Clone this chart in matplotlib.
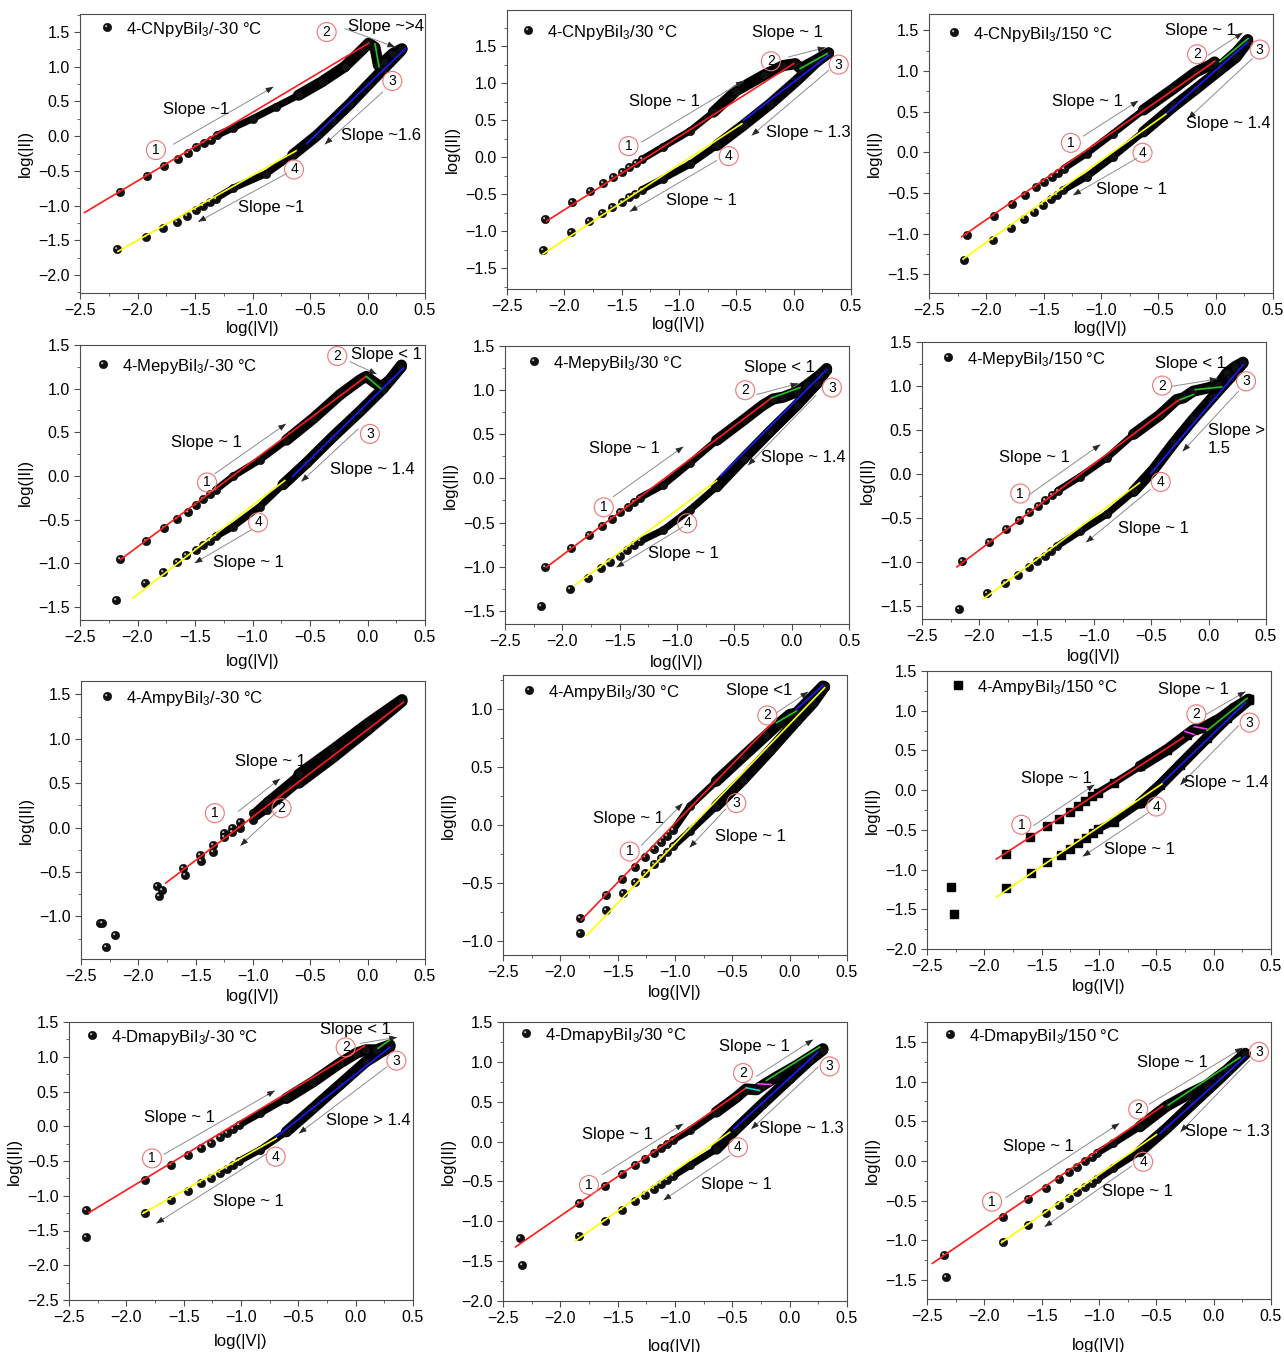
import matplotlib
matplotlib.use("Agg")
from matplotlib import pyplot as plt
from matplotlib.path import Path
from matplotlib.ticker import MultipleLocator

plt.rcParams["font.family"] = ["Liberation Sans", "DejaVu Sans"]
plt.rcParams["mathtext.default"] = "regular"

# ---------------- data (log V, log I) ----------------
# 4-CNpyBiI3 / -30 C
cn1_fwd_x = [-2.15, -1.92, -1.77, -1.65, -1.56, -1.49, -1.42, -1.36, -1.31, -1.17, -1.0, -0.8, -0.6, -0.4, -0.2, -0.05, 0.01, 0.065, 0.095, 0.14, 0.22, 0.30]
cn1_fwd_y = [-0.80, -0.58, -0.43, -0.33, -0.24, -0.16, -0.10, -0.05, 0.01, 0.12, 0.25, 0.42, 0.59, 0.78, 1.00, 1.24, 1.34, 1.28, 1.02, 1.07, 1.19, 1.26]
cn1_rev_x = [-2.18, -1.93, -1.78, -1.66, -1.57, -1.49, -1.43, -1.37, -1.32, -1.17, -0.88, -0.65, -0.44, -0.30, -0.15, 0.0, 0.14, 0.28, 0.30]
cn1_rev_y = [-1.63, -1.46, -1.33, -1.23, -1.15, -1.07, -1.01, -0.95, -0.90, -0.75, -0.54, -0.27, 0.01, 0.23, 0.47, 0.73, 0.97, 1.21, 1.25]
cn1_fits = [(-2.46, -1.10, 0.01, 1.34), (0.065, 1.33, 0.10, 1.0), (0.33, 1.26, -0.53, -0.11), (-0.62, -0.21, -2.17, -1.66)]

# 4-CNpyBiI3 / 30 C
cn2_fwd_x = [-2.165, -1.93, -1.775, -1.66, -1.575, -1.495, -1.435, -1.375, -1.325, -1.14, -0.90, -0.70, -0.50, -0.26, -0.09, 0.015, 0.06, 0.17, 0.305]
cn2_fwd_y = [-0.84, -0.61, -0.46, -0.35, -0.27, -0.20, -0.13, -0.08, -0.03, 0.14, 0.36, 0.61, 0.90, 1.11, 1.24, 1.265, 1.20, 1.29, 1.41]
cn2_rev_x = [-2.19, -1.945, -1.785, -1.67, -1.58, -1.50, -1.44, -1.38, -1.325, -1.14, -0.90, -0.67, -0.44, -0.205, 0.03, 0.20, 0.305]
cn2_rev_y = [-1.25, -1.01, -0.86, -0.75, -0.67, -0.60, -0.54, -0.49, -0.44, -0.29, -0.09, 0.16, 0.43, 0.72, 1.04, 1.29, 1.41]
cn2_fits = [(-2.156, -0.864, 0.0, 1.265), (0.058, 1.198, 0.29, 1.40), (0.305, 1.378, -0.438, 0.499), (-0.452, 0.454, -2.185, -1.306)]

# 4-CNpyBiI3 / 150 C
cn3_fwd_x = [-2.165, -1.93, -1.775, -1.66, -1.57, -1.50, -1.43, -1.375, -1.325, -1.125, -0.895, -0.63, -0.37, -0.17, -0.05, -0.01, 0.035, 0.18, 0.28]
cn3_fwd_y = [-1.02, -0.78, -0.63, -0.52, -0.43, -0.36, -0.30, -0.25, -0.20, -0.015, 0.23, 0.52, 0.78, 0.99, 1.07, 1.11, 1.05, 1.23, 1.385]
cn3_rev_x = [-2.195, -1.945, -1.785, -1.675, -1.585, -1.505, -1.44, -1.38, -1.33, -1.125, -0.895, -0.63, -0.37, -0.17, 0.035, 0.18, 0.28]
cn3_rev_y = [-1.32, -1.08, -0.93, -0.82, -0.73, -0.645, -0.58, -0.52, -0.465, -0.30, -0.055, 0.25, 0.56, 0.78, 1.01, 1.17, 1.36]
cn3_fits = [(-2.215, -1.038, -0.008, 1.119), (0.036, 1.111, 0.282, 1.398), (0.282, 1.357, -0.429, 0.477), (-0.435, 0.468, -2.195, -1.304)]

# 4-MepyBiI3 / -30 C
me1_fwd_x = [-2.155, -1.925, -1.77, -1.655, -1.565, -1.495, -1.43, -1.37, -1.32, -1.17, -0.935, -0.705, -0.47, -0.24, -0.065, -0.01, 0.05, 0.12, 0.195, 0.295]
me1_fwd_y = [-0.95, -0.74, -0.60, -0.49, -0.41, -0.33, -0.265, -0.21, -0.16, -0.005, 0.185, 0.41, 0.66, 0.93, 1.10, 1.14, 1.08, 1.02, 1.10, 1.27]
me1_rev_x = [-2.185, -1.935, -1.78, -1.66, -1.575, -1.495, -1.43, -1.37, -1.315, -1.17, -0.935, -0.735, -0.53, -0.30, -0.065, 0.135, 0.295]
me1_rev_y = [-1.42, -1.23, -1.10, -0.99, -0.91, -0.845, -0.79, -0.74, -0.69, -0.58, -0.35, -0.10, 0.15, 0.45, 0.74, 1.00, 1.25]
me1_fits = [(-2.149, -0.959, -0.014, 1.138), (-0.008, 1.138, 0.123, 0.993), (0.311, 1.233, -0.652, -0.006), (-0.719, -0.052, -2.039, -1.397)]

# 4-MepyBiI3 / 30 C
me2_fwd_x = [-2.155, -1.925, -1.77, -1.655, -1.57, -1.495, -1.43, -1.375, -1.325, -1.12, -0.89, -0.655, -0.42, -0.25, -0.16, -0.075, 0.045, 0.13, 0.245, 0.305]
me2_fwd_y = [-1.00, -0.79, -0.645, -0.54, -0.455, -0.38, -0.325, -0.27, -0.22, -0.075, 0.17, 0.43, 0.66, 0.83, 0.90, 0.92, 0.98, 1.055, 1.17, 1.245]
me2_rev_x = [-2.185, -1.935, -1.78, -1.665, -1.58, -1.50, -1.435, -1.375, -1.325, -1.12, -0.89, -0.655, -0.42, -0.19, 0.045, 0.22, 0.305]
me2_rev_y = [-1.45, -1.255, -1.13, -1.02, -0.945, -0.875, -0.81, -0.76, -0.715, -0.585, -0.36, -0.095, 0.225, 0.53, 0.83, 1.075, 1.23]
me2_fits = [(-2.139, -1.007, -0.175, 0.912), (-0.175, 0.912, 0.072, 1.029), (0.305, 1.232, -0.618, 0.03), (-0.655, -0.027, -1.886, -1.206)]

# 4-MepyBiI3 / 150 C
me3_fwd_x = [-2.155, -1.92, -1.77, -1.655, -1.565, -1.49, -1.425, -1.365, -1.315, -1.12, -0.89, -0.655, -0.425, -0.28, -0.22, -0.135, -0.015, 0.085, 0.16, 0.23, 0.30]
me3_fwd_y = [-0.99, -0.77, -0.625, -0.52, -0.43, -0.36, -0.295, -0.24, -0.19, -0.03, 0.18, 0.45, 0.67, 0.845, 0.865, 0.94, 0.975, 1.015, 1.15, 1.22, 1.27]
me3_rev_x = [-2.18, -1.935, -1.78, -1.665, -1.57, -1.50, -1.43, -1.375, -1.32, -1.12, -0.89, -0.655, -0.48, -0.305, -0.135, 0.04, 0.185, 0.30]
me3_rev_y = [-1.54, -1.36, -1.24, -1.145, -1.06, -0.99, -0.93, -0.875, -0.82, -0.65, -0.46, -0.20, 0.05, 0.35, 0.62, 0.88, 1.09, 1.26]
me3_fits = [(-2.195, -1.057, -0.264, 0.837), (-0.249, 0.845, -0.133, 0.902), (-0.118, 0.958, 0.114, 0.989), (0.303, 1.242, -0.505, 0.004), (-0.603, -0.102, -1.963, -1.42)]

# 4-AmpyBiI3 / -30 C
am1_fwd_x = [-2.335, -1.835, -1.61, -1.46, -1.35, -1.255, -1.18, -1.115, -1.0, -0.88, -0.6, -0.3, 0.0, 0.30]
am1_fwd_y = [-1.07, -0.66, -0.45, -0.31, -0.20, -0.06, 0.0, 0.06, 0.16, 0.30, 0.60, 0.88, 1.17, 1.44]
am1_rev_x = [-2.315, -2.285, -2.205, -1.82, -1.795, -1.595, -1.45, -1.345, -1.255, -1.18, -1.115, -1.0, -0.88, -0.6, -0.3, 0.0, 0.30]
am1_rev_y = [-1.08, -1.35, -1.21, -0.775, -0.70, -0.53, -0.38, -0.27, -0.11, -0.05, 0.0, 0.09, 0.20, 0.50, 0.79, 1.10, 1.42]
am1_fits = [(-1.761, -0.625, 0.311, 1.41)]

# 4-AmpyBiI3 / 30 C
am2_fwd_x = [-1.825, -1.605, -1.46, -1.345, -1.26, -1.185, -1.12, -1.07, -1.015, -0.87, -0.64, -0.405, -0.205, -0.085, 0.0, 0.06, 0.175, 0.29]
am2_fwd_y = [-0.80, -0.60, -0.465, -0.365, -0.28, -0.21, -0.15, -0.095, -0.045, 0.16, 0.375, 0.59, 0.77, 0.88, 0.95, 0.965, 1.08, 1.195]
am2_rev_x = [-1.825, -1.60, -1.455, -1.345, -1.26, -1.185, -1.12, -1.07, -1.015, -0.87, -0.64, -0.405, -0.175, 0.06, 0.205, 0.305]
am2_rev_y = [-0.93, -0.73, -0.59, -0.495, -0.41, -0.34, -0.285, -0.23, -0.185, -0.055, 0.16, 0.39, 0.635, 0.895, 1.05, 1.19]
am2_fits = [(-1.817, -0.819, -0.116, 0.914), (-0.116, 0.879, 0.058, 0.98), (0.058, 0.994, 0.291, 1.201), (0.305, 1.181, -1.767, -0.948)]

# 4-AmpyBiI3 / 150 C
am3_fwd_x = [-2.29, -1.815, -1.60, -1.455, -1.345, -1.255, -1.185, -1.12, -1.06, -1.01, -0.87, -0.64, -0.405, -0.235, -0.175, -0.115, -0.06, 0.06, 0.175, 0.305]
am3_fwd_y = [-1.22, -0.81, -0.595, -0.455, -0.36, -0.275, -0.20, -0.135, -0.08, -0.03, 0.09, 0.30, 0.51, 0.695, 0.76, 0.78, 0.81, 0.905, 1.03, 1.145]
am3_rev_x = [-2.265, -1.81, -1.595, -1.45, -1.335, -1.25, -1.18, -1.115, -1.055, -1.005, -0.87, -0.64, -0.465, -0.29, -0.06, 0.115, 0.305]
am3_rev_y = [-1.555, -1.235, -1.045, -0.91, -0.815, -0.74, -0.665, -0.605, -0.54, -0.49, -0.395, -0.165, 0.065, 0.32, 0.655, 0.905, 1.135]
am3_fits = [(-1.895, -0.868, -0.262, 0.666), (-0.25, 0.74, -0.17, 0.70), (-0.17, 0.80, -0.06, 0.77), (-0.058, 0.75, 0.291, 1.156), (0.276, 1.102, -0.451, 0.088), (-0.451, 0.079, -1.895, -1.346)]

# 4-DmapyBiI3 / -30 C
dm1_fwd_x = [-2.355, -1.84, -1.61, -1.46, -1.35, -1.265, -1.185, -1.12, -1.07, -1.015, -0.835, -0.605, -0.37, -0.14, 0.005, 0.09, 0.18, 0.30]
dm1_fwd_y = [-1.205, -0.775, -0.555, -0.42, -0.32, -0.235, -0.16, -0.09, -0.04, 0.02, 0.185, 0.40, 0.64, 0.905, 1.05, 1.10, 1.10, 1.17]
dm1_rev_x = [-2.355, -1.84, -1.61, -1.46, -1.35, -1.265, -1.185, -1.12, -1.07, -1.015, -0.835, -0.605, -0.37, -0.14, 0.09, 0.30]
dm1_rev_y = [-1.59, -1.255, -1.06, -0.93, -0.82, -0.75, -0.675, -0.615, -0.56, -0.50, -0.34, -0.08, 0.26, 0.595, 0.93, 1.145]
dm1_fits = [(-2.326, -1.243, 0.078, 1.155), (0.195, 1.121, 0.297, 1.241), (0.297, 1.135, -0.692, -0.15), (-0.692, -0.174, -1.855, -1.253)]

# 4-DmapyBiI3 / 30 C
dm2_fwd_x = [-2.355, -1.835, -1.61, -1.46, -1.345, -1.26, -1.185, -1.12, -1.07, -1.015, -0.87, -0.64, -0.465, -0.38, -0.29, -0.235, -0.115, 0.06, 0.175, 0.29]
dm2_fwd_y = [-1.215, -0.77, -0.555, -0.41, -0.30, -0.215, -0.145, -0.08, -0.03, 0.02, 0.14, 0.37, 0.555, 0.66, 0.65, 0.705, 0.81, 0.955, 1.06, 1.165]
dm2_rev_x = [-2.33, -1.835, -1.61, -1.46, -1.345, -1.26, -1.185, -1.12, -1.07, -1.015, -0.87, -0.64, -0.465, -0.235, 0.0, 0.175, 0.29]
dm2_rev_y = [-1.545, -1.18, -0.995, -0.855, -0.75, -0.665, -0.595, -0.535, -0.48, -0.43, -0.30, -0.095, 0.16, 0.475, 0.79, 1.02, 1.15]
dm2_fits = [(-2.39, -1.321, -0.378, 0.674), (-0.378, 0.674, -0.262, 0.641), (-0.276, 0.725, -0.16, 0.716), (-0.203, 0.767, 0.262, 1.186), (0.247, 1.123, -0.488, 0.159), (-0.523, 0.117, -1.869, -1.245)]

# 4-DmapyBiI3 / 150 C
dm3_fwd_x = [-2.355, -1.835, -1.615, -1.465, -1.35, -1.265, -1.19, -1.125, -1.065, -1.015, -0.875, -0.645, -0.41, -0.235, -0.06, 0.115, 0.275]
dm3_fwd_y = [-1.185, -0.71, -0.485, -0.34, -0.23, -0.145, -0.075, -0.005, 0.05, 0.10, 0.22, 0.43, 0.69, 0.83, 0.955, 1.145, 1.355]
dm3_rev_x = [-2.335, -1.835, -1.615, -1.465, -1.35, -1.265, -1.19, -1.125, -1.065, -1.015, -0.875, -0.645, -0.41, -0.18, 0.055, 0.275]
dm3_rev_y = [-1.465, -1.025, -0.81, -0.66, -0.55, -0.465, -0.395, -0.335, -0.275, -0.23, -0.095, 0.115, 0.41, 0.725, 1.04, 1.345]
dm3_fits = [(-2.453, -1.291, -0.446, 0.69), (-0.396, 0.703, 0.229, 1.303), (0.273, 1.311, -0.469, 0.346), (-0.498, 0.333, -1.851, -1.03)]

names = ["4-CNpyBiI$_3$/-30 °C", "4-CNpyBiI$_3$/30 °C", "4-CNpyBiI$_3$/150 °C",
         "4-MepyBiI$_3$/-30 °C", "4-MepyBiI$_3$/30 °C", "4-MepyBiI$_3$/150 °C",
         "4-AmpyBiI$_3$/-30 °C", "4-AmpyBiI$_3$/30 °C", "4-AmpyBiI$_3$/150 °C",
         "4-DmapyBiI$_3$/-30 °C", "4-DmapyBiI$_3$/30 °C", "4-DmapyBiI$_3$/150 °C"]

# ---------------- layout / styling ----------------
W, H = 1284, 1352
R, G, B, Y, C, M = "#ff1a1a", "#22c322", "#1a1aff", "#ffff00", "#22cccc", "#ff33ff"

# ("c", "n", x, y) circled number, ("t", text, x, y) label, ("a", x0, y0, x1, y1) arrow
panels = [
    dict(d=(cn1_fwd_x, cn1_fwd_y, cn1_rev_x, cn1_rev_y, cn1_fits), col=[R, G, B, Y],
         box=(80, 14, 425, 293), ylim=(-2.26, 1.76), leg=(27, 13), band=-1.35, lp=2,
         ann=[("c", "1", -1.84, -0.20), ("c", "2", -0.355, 1.50), ("c", "3", 0.216, 0.795), ("c", "4", -0.639, -0.48),
              ("t", "Slope ~1", -1.486, 0.383), ("t", "Slope ~>4", 0.161, 1.58), ("t", "Slope ~1.6", 0.117, 0.014), ("t", "Slope ~1", -0.842, -1.026),
              ("a", -1.688, -0.116, -0.819, 0.709), ("a", -0.196, 1.548, 0.239, 1.284), ("a", 0.132, 0.637, -0.37, -0.116), ("a", -0.703, -0.537, -1.471, -1.232)]),
    dict(d=(cn2_fwd_x, cn2_fwd_y, cn2_rev_x, cn2_rev_y, cn2_fits), col=[R, G, B, Y],
         box=(507, 10, 851, 289), ylim=(-1.78, 1.99), leg=(21, 20), band=-1.35, lp=2,
         ann=[("c", "1", -1.44, 0.151), ("c", "2", -0.199, 1.297), ("c", "3", 0.393, 1.252), ("c", "4", -0.566, 0.016),
              ("t", "Slope ~ 1", -1.128, 0.76), ("t", "Slope ~ 1", -0.05, 1.68), ("t", "Slope ~ 1.3", 0.124, 0.34), ("t", "Slope ~ 1", -0.802, -0.584),
              ("a", -1.326, 0.205, -0.438, 1.031), ("a", -0.044, 1.356, 0.276, 1.482), ("a", 0.305, 1.175, -0.365, 0.296), ("a", -0.671, -0.043, -1.428, -0.733)]),
    dict(d=(cn3_fwd_x, cn3_fwd_y, cn3_rev_x, cn3_rev_y, cn3_fits), col=[R, G, B, Y],
         box=(929, 14, 1273, 293), ylim=(-1.73, 1.70), leg=(25, 18), band=-1.35, lp=2,
         ann=[("c", "1", -1.263, 0.116), ("c", "2", -0.162, 1.205), ("c", "3", 0.384, 1.263), ("c", "4", -0.638, -0.006),
              ("t", "Slope ~ 1", -1.117, 0.62), ("t", "Slope ~ 1", -0.133, 1.50), ("t", "Slope ~ 1.4", 0.114, 0.354), ("t", "Slope ~ 1", -0.734, -0.452),
              ("a", -1.155, 0.198, -0.676, 0.632), ("a", -0.066, 1.193, 0.233, 1.467), ("a", 0.32, 1.152, -0.24, 0.415), ("a", -0.69, -0.076, -1.242, -0.526)]),
    dict(d=(me1_fwd_x, me1_fwd_y, me1_rev_x, me1_rev_y, me1_fits), col=[R, G, B, Y],
         box=(80, 345, 425, 620), ylim=(-1.65, 1.5), leg=(23, 19), band=-1.35, lp=6,
         ann=[("c", "1", -1.395, -0.075), ("c", "2", -0.263, 1.374), ("c", "3", 0.021, 0.482), ("c", "4", -0.951, -0.532),
              ("t", "Slope ~ 1", -1.40, 0.383), ("t", "Slope < 1", 0.166, 1.386), ("t", "Slope ~ 1.4", 0.044, 0.07), ("t", "Slope ~ 1", -1.038, -0.986),
              ("a", -1.328, 0.025, -0.71, 0.596), ("a", -0.153, 1.309, 0.079, 1.168), ("a", -0.081, 0.539, -0.574, -0.063), ("a", -1.009, -0.616, -1.502, -0.997)]),
    dict(d=(me2_fwd_x, me2_fwd_y, me2_rev_x, me2_rev_y, me2_fits), col=[R, G, B, Y],
         box=(505, 346, 849, 624), ylim=(-1.65, 1.5), leg=(29, 15), band=-1.35, lp=4,
         ann=[("c", "1", -1.639, -0.328), ("c", "2", -0.405, 0.999), ("c", "3", 0.351, 1.029), ("c", "4", -0.911, -0.509),
              ("t", "Slope ~ 1", -1.455, 0.339), ("t", "Slope < 1", -0.108, 1.255), ("t", "Slope ~ 1.4", 0.101, 0.237), ("t", "Slope ~ 1", -0.94, -0.856),
              ("a", -1.557, -0.208, -0.946, 0.358), ("a", -0.306, 0.95, 0.057, 1.074), ("a", 0.212, 0.942, -0.379, 0.151), ("a", -0.946, -0.547, -1.528, -1.007)]),
    dict(d=(me3_fwd_x, me3_fwd_y, me3_rev_x, me3_rev_y, me3_fits), col=[R, G, G, B, Y],
         box=(922, 342, 1266, 619), ylim=(-1.65, 1.5), leg=(26, 15), band=-1.35, lp=3,
         ann=[("c", "1", -1.643, -0.223), ("c", "2", -0.406, 1.004), ("c", "3", 0.326, 1.053), ("c", "4", -0.418, -0.091),
              ("t", "Slope ~ 1", -1.521, 0.182), ("t", "Slope < 1", -0.162, 1.254), ("tl", "Slope >\n1.5", -0.005, 0.39), ("t", "Slope ~ 1", -0.481, -0.621),
              ("a", -1.571, -0.242, -0.946, 0.333), ("a", -0.322, 0.996, 0.076, 1.08), ("a", 0.259, 0.939, -0.226, 0.258), ("a", -0.51, -0.178, -1.068, -0.777)]),
    dict(d=(am1_fwd_x, am1_fwd_y, am1_rev_x, am1_rev_y, am1_fits), col=[R],
         box=(81, 681, 425, 959), ylim=(-1.48, 1.65), leg=(26, 15), band=-1.05, lp=3,
         ann=[("c", "1", -1.333, 0.162), ("c", "2", -0.751, 0.218), ("t", "Slope ~ 1", -0.847, 0.747),
              ("a", -1.13, 0.181, -0.766, 0.548), ("a", -0.795, 0.173, -1.109, -0.202)]),
    dict(d=(am2_fwd_x, am2_fwd_y, am2_rev_x, am2_rev_y, am2_fits), col=[R, G, B, Y],
         box=(503, 675, 847, 955), ylim=(-1.12, 1.29), leg=(26, 15), band=-1.05, lp=3,
         ann=[("c", "1", -1.395, -0.229), ("c", "2", -0.195, 0.942), ("c", "3", -0.465, 0.188),
              ("t", "Slope ~ 1", -1.404, 0.059), ("t", "Slope <1", -0.262, 1.158), ("t", "Slope ~ 1", -0.34, -0.099),
              ("a", -1.294, -0.177, -0.936, 0.183), ("a", -0.116, 0.965, 0.16, 1.144), ("a", -0.558, 0.137, -0.872, -0.194)]),
    dict(d=(am3_fwd_x, am3_fwd_y, am3_rev_x, am3_rev_y, am3_fits), col=[R, M, M, G, B, Y], mk="s",
         box=(927, 671, 1271, 949), ylim=(-2.0, 1.5), leg=(31, 14), band=-1.05, lp=3,
         ann=[("c", "1", -1.677, -0.436), ("c", "2", -0.151, 0.955), ("c", "3", 0.314, 0.85), ("c", "4", -0.5, -0.206),
              ("t", "Slope ~ 1", -1.372, 0.15), ("t", "Slope ~ 1", -0.174, 1.261), ("t", "Slope ~ 1.4", 0.11, 0.10), ("t", "Slope ~ 1", -0.645, -0.751),
              ("a", -1.57, -0.445, -1.041, 0.067), ("a", -0.073, 0.947, 0.276, 1.24), ("a", 0.218, 0.813, -0.291, 0.067), ("a", -0.567, -0.281, -1.14, -0.834)]),
    dict(d=(dm1_fwd_x, dm1_fwd_y, dm1_rev_x, dm1_rev_y, dm1_fits), col=[R, G, B, Y],
         box=(69, 1022, 413, 1300), ylim=(-2.5, 1.5), leg=(23, 13), band=-1.05, lp=6,
         ann=[("c", "1", -1.776, -0.462), ("c", "2", -0.087, 1.135), ("c", "3", 0.355, 0.944), ("c", "4", -0.698, -0.438),
              ("t", "Slope ~ 1", -1.535, 0.128), ("t", "Slope < 1", -0.003, 1.394), ("t", "Slope > 1.4", 0.113, 0.08), ("t", "Slope ~ 1", -0.939, -1.085),
              ("a", -1.672, -0.404, -0.706, 0.512), ("a", 0.041, 1.193, 0.36, 1.279), ("a", 0.273, 0.857, -0.494, -0.102), ("a", -0.779, -0.399, -1.738, -1.397)]),
    dict(d=(dm2_fwd_x, dm2_fwd_y, dm2_rev_x, dm2_rev_y, dm2_fits), col=[R, C, M, G, B, Y],
         box=(503, 1022, 847, 1301), ylim=(-2.0, 1.5), leg=(23, 11), band=-1.05, lp=9,
         ann=[("c", "1", -1.75, -0.545), ("c", "2", -0.407, 0.859), ("c", "3", 0.349, 0.943), ("c", "4", -0.451, -0.072),
              ("t", "Slope ~ 1", -1.506, 0.088), ("t", "Slope ~ 1", -0.305, 1.198), ("t", "Slope ~ 1.3", 0.102, 0.159), ("t", "Slope ~ 1", -0.465, -0.533),
              ("a", -1.634, -0.415, -0.93, 0.222), ("a", -0.291, 0.817, 0.203, 1.278), ("a", 0.247, 0.934, -0.334, 0.159), ("a", -0.523, -0.176, -1.099, -0.734)]),
    dict(d=(dm3_fwd_x, dm3_fwd_y, dm3_rev_x, dm3_rev_y, dm3_fits), col=[R, G, B, Y],
         box=(927, 1022, 1271, 1299), ylim=(-1.74, 1.75), leg=(23, 12), band=-1.05, lp=10,
         ann=[("c", "1", -1.933, -0.514), ("c", "2", -0.658, 0.648), ("c", "3", 0.395, 1.374), ("c", "4", -0.615, -0.011),
              ("t", "Slope ~ 1", -1.525, 0.178), ("t", "Slope ~ 1", -0.359, 1.24), ("t", "Slope ~ 1.3", 0.119, 0.367), ("t", "Slope ~ 1", -0.664, -0.388),
              ("a", -1.813, -0.464, -0.824, 0.472), ("a", -0.562, 0.715, 0.252, 1.424), ("a", 0.316, 1.269, -0.289, 0.367), ("a", -0.716, -0.065, -1.473, -0.829)]),
]

# highlight spot for the sphere-like markers (dummy corners fix the scale)
hl = Path.make_compound_path(
    Path.circle((-0.32, 0.32), 0.26),
    Path([(1, 1), (1, 1)], [Path.MOVETO, Path.LINETO]),
    Path([(-1, -1), (-1, -1)], [Path.MOVETO, Path.LINETO]))


def balls(ax, x, y, mk, x0=None, **kw):
    if mk == "s":
        ax.plot(x, y, ls="none", marker="s", ms=5.5, color="black", zorder=3, **kw)
        return
    ax.plot(x, y, ls="none", marker="o", ms=6, mfc="#111111", mec="black", mew=0.4, zorder=3, **kw)
    # only the loose points show their shine; the dense run stays dark
    if x0 is not None:
        sel = [(a, b) for a, b in zip(x, y) if a < x0 + 0.05]
        x, y = [s[0] for s in sel], [s[1] for s in sel]
    ax.plot(x, y, ls="none", marker=hl, ms=6, mfc="0.75", mec="none", mew=0, zorder=3, **kw)


def band(ax, x, y, x0):
    xs = [a for a in x if a >= x0]
    ys = [b for a, b in zip(x, y) if a >= x0]
    ax.plot(xs, ys, color="black", lw=5, solid_capstyle="round", solid_joinstyle="round", zorder=2)
    # denser part of the sweep: thicker
    xs2 = [a for a in xs if a >= -0.75]
    ys2 = [b for a, b in zip(xs, ys) if a >= -0.75]
    ax.plot(xs2, ys2, color="black", lw=8, solid_capstyle="round", solid_joinstyle="round", zorder=2)


def arrow(ax, x0, y0, x1, y1):
    ax.annotate("", xy=(x1, y1), xytext=(x0, y0),
                arrowprops=dict(arrowstyle="-", color="0.55", lw=0.7, shrinkA=0, shrinkB=0), zorder=5)
    f = 0.93
    ax.annotate("", xy=(x1, y1), xytext=(x0 + f * (x1 - x0), y0 + f * (y1 - y0)),
                arrowprops=dict(arrowstyle="-|>,head_length=0.45,head_width=0.18", color="0.15",
                                lw=0.5, shrinkA=0, shrinkB=0, mutation_scale=10), zorder=5)


fig = plt.figure(figsize=(W / 100, H / 100), dpi=100)

for i, p in enumerate(panels):
    l, t, r, b = p["box"]
    ax = fig.add_axes([l / W, 1 - b / H, (r - l) / W, (b - t) / H])
    fx, fy, rx, ry, fits = p["d"]
    mk = p.get("mk", "o")

    band(ax, fx, fy, p["band"])
    band(ax, rx, ry, p["band"])
    balls(ax, fx, fy, mk, p["band"])
    balls(ax, rx, ry, mk, p["band"])
    for (x0, y0, x1, y1), c in zip(fits, p["col"]):
        ax.plot([x0, x1], [y0, y1], color=c, lw=1.2, zorder=4)

    for a in p["ann"]:
        if a[0] == "c":
            ax.text(a[2], a[3], a[1], fontsize=10, ha="center", va="center", zorder=6,
                    bbox=dict(boxstyle="circle,pad=0.18", fc="none", ec="#f07575", lw=0.8))
        elif a[0] == "t":
            ax.text(a[2], a[3], a[1], fontsize=12, ha="center", va="center", zorder=6)
        elif a[0] == "tl":
            ax.text(a[2], a[3], a[1], fontsize=12, ha="left", va="center", zorder=6, linespacing=1.3)
        else:
            arrow(ax, *a[1:])

    # legend key
    wpx, hpx = r - l, b - t
    lx, ly = p["leg"]
    balls(ax, [lx / wpx], [1 - ly / hpx], mk, transform=ax.transAxes, clip_on=False)
    ax.text((lx + 19) / wpx, 1 - ly / hpx, names[i], transform=ax.transAxes, fontsize=12,
            ha="left", va="center_baseline")

    ax.set_xlim(-2.5, 0.5)
    ax.set_ylim(*p["ylim"])
    ax.xaxis.set_major_locator(MultipleLocator(0.5))
    ax.xaxis.set_minor_locator(MultipleLocator(0.25))
    ax.yaxis.set_major_locator(MultipleLocator(0.5))
    ax.yaxis.set_minor_locator(MultipleLocator(0.25))
    ax.tick_params(which="both", direction="out", top=False, right=False, color="0.3", labelsize=11.5)
    ax.tick_params(which="major", length=4, width=0.8)
    ax.tick_params(which="minor", length=2.2, width=0.6)
    for s in ax.spines.values():
        s.set_color("0.3")
        s.set_linewidth(0.8)
    ax.set_xlabel("log(|V|)", fontsize=12, labelpad=p["lp"])
    ax.set_ylabel("log(|I|)", fontsize=12, labelpad=4)

fig.savefig("out.png", dpi=100)
